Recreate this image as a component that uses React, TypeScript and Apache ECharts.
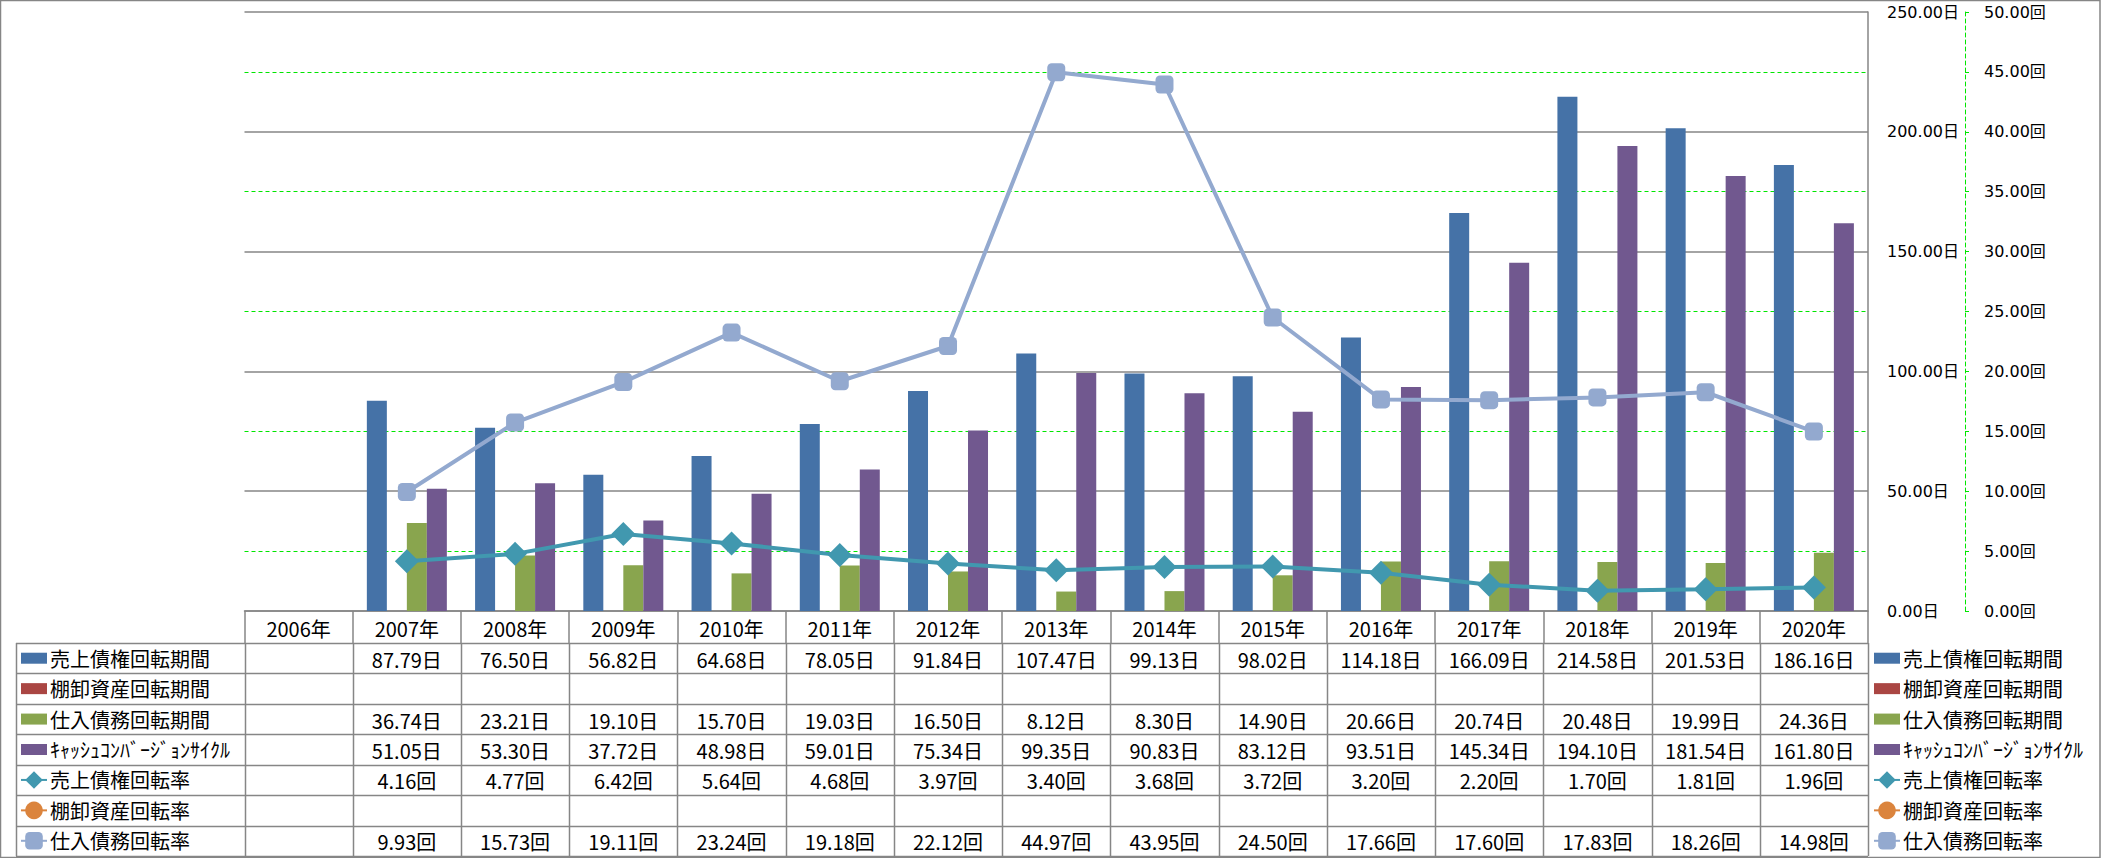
import React, { useEffect, useRef } from 'react';
import * as echarts from 'echarts';

// ---------- data ----------
const years = ['2006年', '2007年', '2008年', '2009年', '2010年', '2011年', '2012年', '2013年', '2014年', '2015年', '2016年', '2017年', '2018年', '2019年', '2020年'];

const seriesNames = ['売上債権回転期間', '棚卸資産回転期間', '仕入債務回転期間', 'ｷｬｯｼｭｺﾝﾊﾞｰｼﾞｮﾝｻｲｸﾙ', '売上債権回転率', '棚卸資産回転率', '仕入債務回転率'];

const receivableDays = [null, 87.79, 76.5, 56.82, 64.68, 78.05, 91.84, 107.47, 99.13, 98.02, 114.18, 166.09, 214.58, 201.53, 186.16];
const inventoryDays = [null, null, null, null, null, null, null, null, null, null, null, null, null, null, null];
const payableDays = [null, 36.74, 23.21, 19.1, 15.7, 19.03, 16.5, 8.12, 8.3, 14.9, 20.66, 20.74, 20.48, 19.99, 24.36];
const cashConversionCycle = [null, 51.05, 53.3, 37.72, 48.98, 59.01, 75.34, 99.35, 90.83, 83.12, 93.51, 145.34, 194.1, 181.54, 161.8];
const receivableTurnover = [null, 4.16, 4.77, 6.42, 5.64, 4.68, 3.97, 3.4, 3.68, 3.72, 3.2, 2.2, 1.7, 1.81, 1.96];
const inventoryTurnover = [null, null, null, null, null, null, null, null, null, null, null, null, null, null, null];
const payableTurnover = [null, 9.93, 15.73, 19.11, 23.24, 19.18, 22.12, 44.97, 43.95, 24.5, 17.66, 17.6, 17.83, 18.26, 14.98];

const dayAxisMax = 250;
const dayAxisInterval = 50;
const rateAxisMax = 50;
const rateAxisInterval = 5;
const dayUnit = '日';
const rateUnit = '回';

// ---------- styles ----------
const COLORS = ['#4572A7', '#AA4643', '#89A54E', '#71588F', '#4198AF', '#DB843D', '#93A9CF'];
const GRAY = '#868686';
const GREEN = '#00E600';
const TABLE_FONT = "'Liberation Sans Narrow', 'Noto Sans CJK JP', sans-serif";
const LEGEND_FONT = "'Noto Sans CJK JP', sans-serif";
const AXIS_FONT = "'DejaVu Sans', 'Noto Sans CJK JP', sans-serif";

const W = 2101;
const H = 858;
const GRID_L = 244.5;
const GRID_R = 1868;
const GRID_T = 12;
const GRID_B = 611;
const TABLE_L = 16;
const ROW_TOP = 643;
const ROW_H = 30.43;

const BAR_ICON = 'path://M0,0 M26,22 M0,5.5 L26,5.5 L26,16.5 L0,16.5 Z';

function buildTableGraphics() {
  const els: any[] = [];
  const colW = (GRID_R - GRID_L) / years.length;
  const rows = [
    { values: receivableDays, unit: dayUnit },
    { values: inventoryDays, unit: dayUnit },
    { values: payableDays, unit: dayUnit },
    { values: cashConversionCycle, unit: dayUnit },
    { values: receivableTurnover, unit: rateUnit },
    { values: inventoryTurnover, unit: rateUnit },
    { values: payableTurnover, unit: rateUnit },
  ];
  const bottom = ROW_TOP + rows.length * ROW_H;
  for (let i = 0; i <= rows.length; i++) {
    const y = Math.round(ROW_TOP + i * ROW_H) + 0.5;
    els.push({ type: 'line', shape: { x1: TABLE_L, y1: y, x2: GRID_R, y2: y }, style: { stroke: GRAY, lineWidth: 1.5 }, z: 10 });
  }
  els.push({ type: 'line', shape: { x1: TABLE_L + 0.5, y1: ROW_TOP, x2: TABLE_L + 0.5, y2: bottom }, style: { stroke: GRAY, lineWidth: 1.5 }, z: 10 });
  for (let k = 0; k <= years.length; k++) {
    const x = Math.round(GRID_L + k * colW) + 0.5;
    els.push({ type: 'line', shape: { x1: x, y1: ROW_TOP, x2: x, y2: bottom }, style: { stroke: GRAY, lineWidth: 1.5 }, z: 10 });
  }
  rows.forEach((row, r) => {
    const cy = ROW_TOP + (r + 0.5) * ROW_H + 1;
    row.values.forEach((v, c) => {
      if (v === null || v === undefined) return;
      els.push({
        type: 'text',
        x: GRID_L + (c + 0.5) * colW,
        y: cy,
        z: 11,
        style: {
          text: (v as number).toFixed(2) + row.unit,
          fill: '#000',
          fontSize: 20,
          fontFamily: TABLE_FONT,
          align: 'center',
          verticalAlign: 'middle',
        },
      });
    });
  });
  // outer border
  els.push({ type: 'rect', shape: { x: 0.5, y: 0.5, width: W - 1.5, height: H - 1 }, style: { fill: 'none', stroke: GRAY, lineWidth: 1.5 }, z: 12 });
  return els;
}

function legendConfig(left: number) {
  return {
    orient: 'vertical',
    left,
    top: ROW_TOP + ROW_H / 2 - 11,
    padding: 0,
    itemGap: ROW_H - 22,
    itemWidth: 26,
    itemHeight: 22,
    selectedMode: false,
    textStyle: { fontSize: 20, fontFamily: LEGEND_FONT, color: '#000', lineHeight: 22, padding: [0, 0, 0, -2] },
    data: seriesNames.map((name, i) => (i < 4 ? { name, icon: BAR_ICON } : { name })),
  };
}

export default function App() {
  const ref = useRef<HTMLDivElement>(null);
  useEffect(() => {
    if (!ref.current) return;
    const chart = echarts.init(ref.current, null, { renderer: 'svg' });
    const barData = [receivableDays, inventoryDays, payableDays, cashConversionCycle];
    const lineData = [receivableTurnover, inventoryTurnover, payableTurnover];
    const lineSymbols = ['diamond', 'circle', 'roundRect'];
    const lineSymbolSizes = [24, 20, 18];
    const series: any[] = [];
    barData.forEach((d, i) => {
      series.push({
        name: seriesNames[i],
        type: 'bar',
        data: d,
        yAxisIndex: 0,
        barWidth: 20,
        barGap: '0%',
        itemStyle: { color: COLORS[i] },
      });
    });
    lineData.forEach((d, j) => {
      const i = j + 4;
      series.push({
        name: seriesNames[i],
        type: 'line',
        data: d,
        yAxisIndex: 1,
        symbol: lineSymbols[j],
        symbolSize: lineSymbolSizes[j],
        showAllSymbol: true,
        lineStyle: { color: COLORS[i], width: 4 },
        itemStyle: { color: COLORS[i] },
        z: 5,
      });
    });

    chart.setOption({
      animation: false,
      backgroundColor: '#fff',
      grid: { left: GRID_L, right: W - GRID_R, top: GRID_T, bottom: H - GRID_B, containLabel: false },
      legend: [legendConfig(20), legendConfig(1873)],
      xAxis: {
        type: 'category',
        data: years,
        boundaryGap: true,
        axisLine: { show: true, lineStyle: { color: GRAY, width: 1.5 } },
        axisTick: { show: true, interval: 0, length: ROW_TOP - GRID_B, lineStyle: { color: GRAY, width: 1.5 } },
        axisLabel: { interval: 0, margin: 6, fontSize: 20, fontFamily: TABLE_FONT, color: '#000', lineHeight: 22 },
        splitLine: { show: false },
      },
      yAxis: [
        {
          type: 'value',
          position: 'right',
          min: 0,
          max: dayAxisMax,
          interval: dayAxisInterval,
          axisLine: { show: true, lineStyle: { color: GRAY, width: 1.5 } },
          axisTick: { show: false },
          axisLabel: { margin: 19, fontSize: 16, fontFamily: AXIS_FONT, color: '#000', formatter: (v: number) => v.toFixed(2) + dayUnit },
          splitLine: { show: true, lineStyle: { color: GRAY, width: 1.5 } },
        },
        {
          type: 'value',
          position: 'right',
          offset: 97,
          min: 0,
          max: rateAxisMax,
          interval: rateAxisInterval,
          axisLine: { show: true, lineStyle: { color: GREEN, width: 1, type: [4, 3] } },
          axisTick: { show: true, length: 4, lineStyle: { color: GREEN } },
          axisLabel: { margin: 19, fontSize: 16, fontFamily: AXIS_FONT, color: '#000', formatter: (v: number) => v.toFixed(2) + rateUnit },
          splitLine: { show: true, lineStyle: { color: ['transparent', GREEN], width: 1, type: [4, 3] } },
        },
      ],
      series,
      graphic: buildTableGraphics(),
    });
    return () => chart.dispose();
  }, []);
  return <div ref={ref} style={{ position: 'fixed', left: 0, top: 0, width: W, height: H }} />;
}
